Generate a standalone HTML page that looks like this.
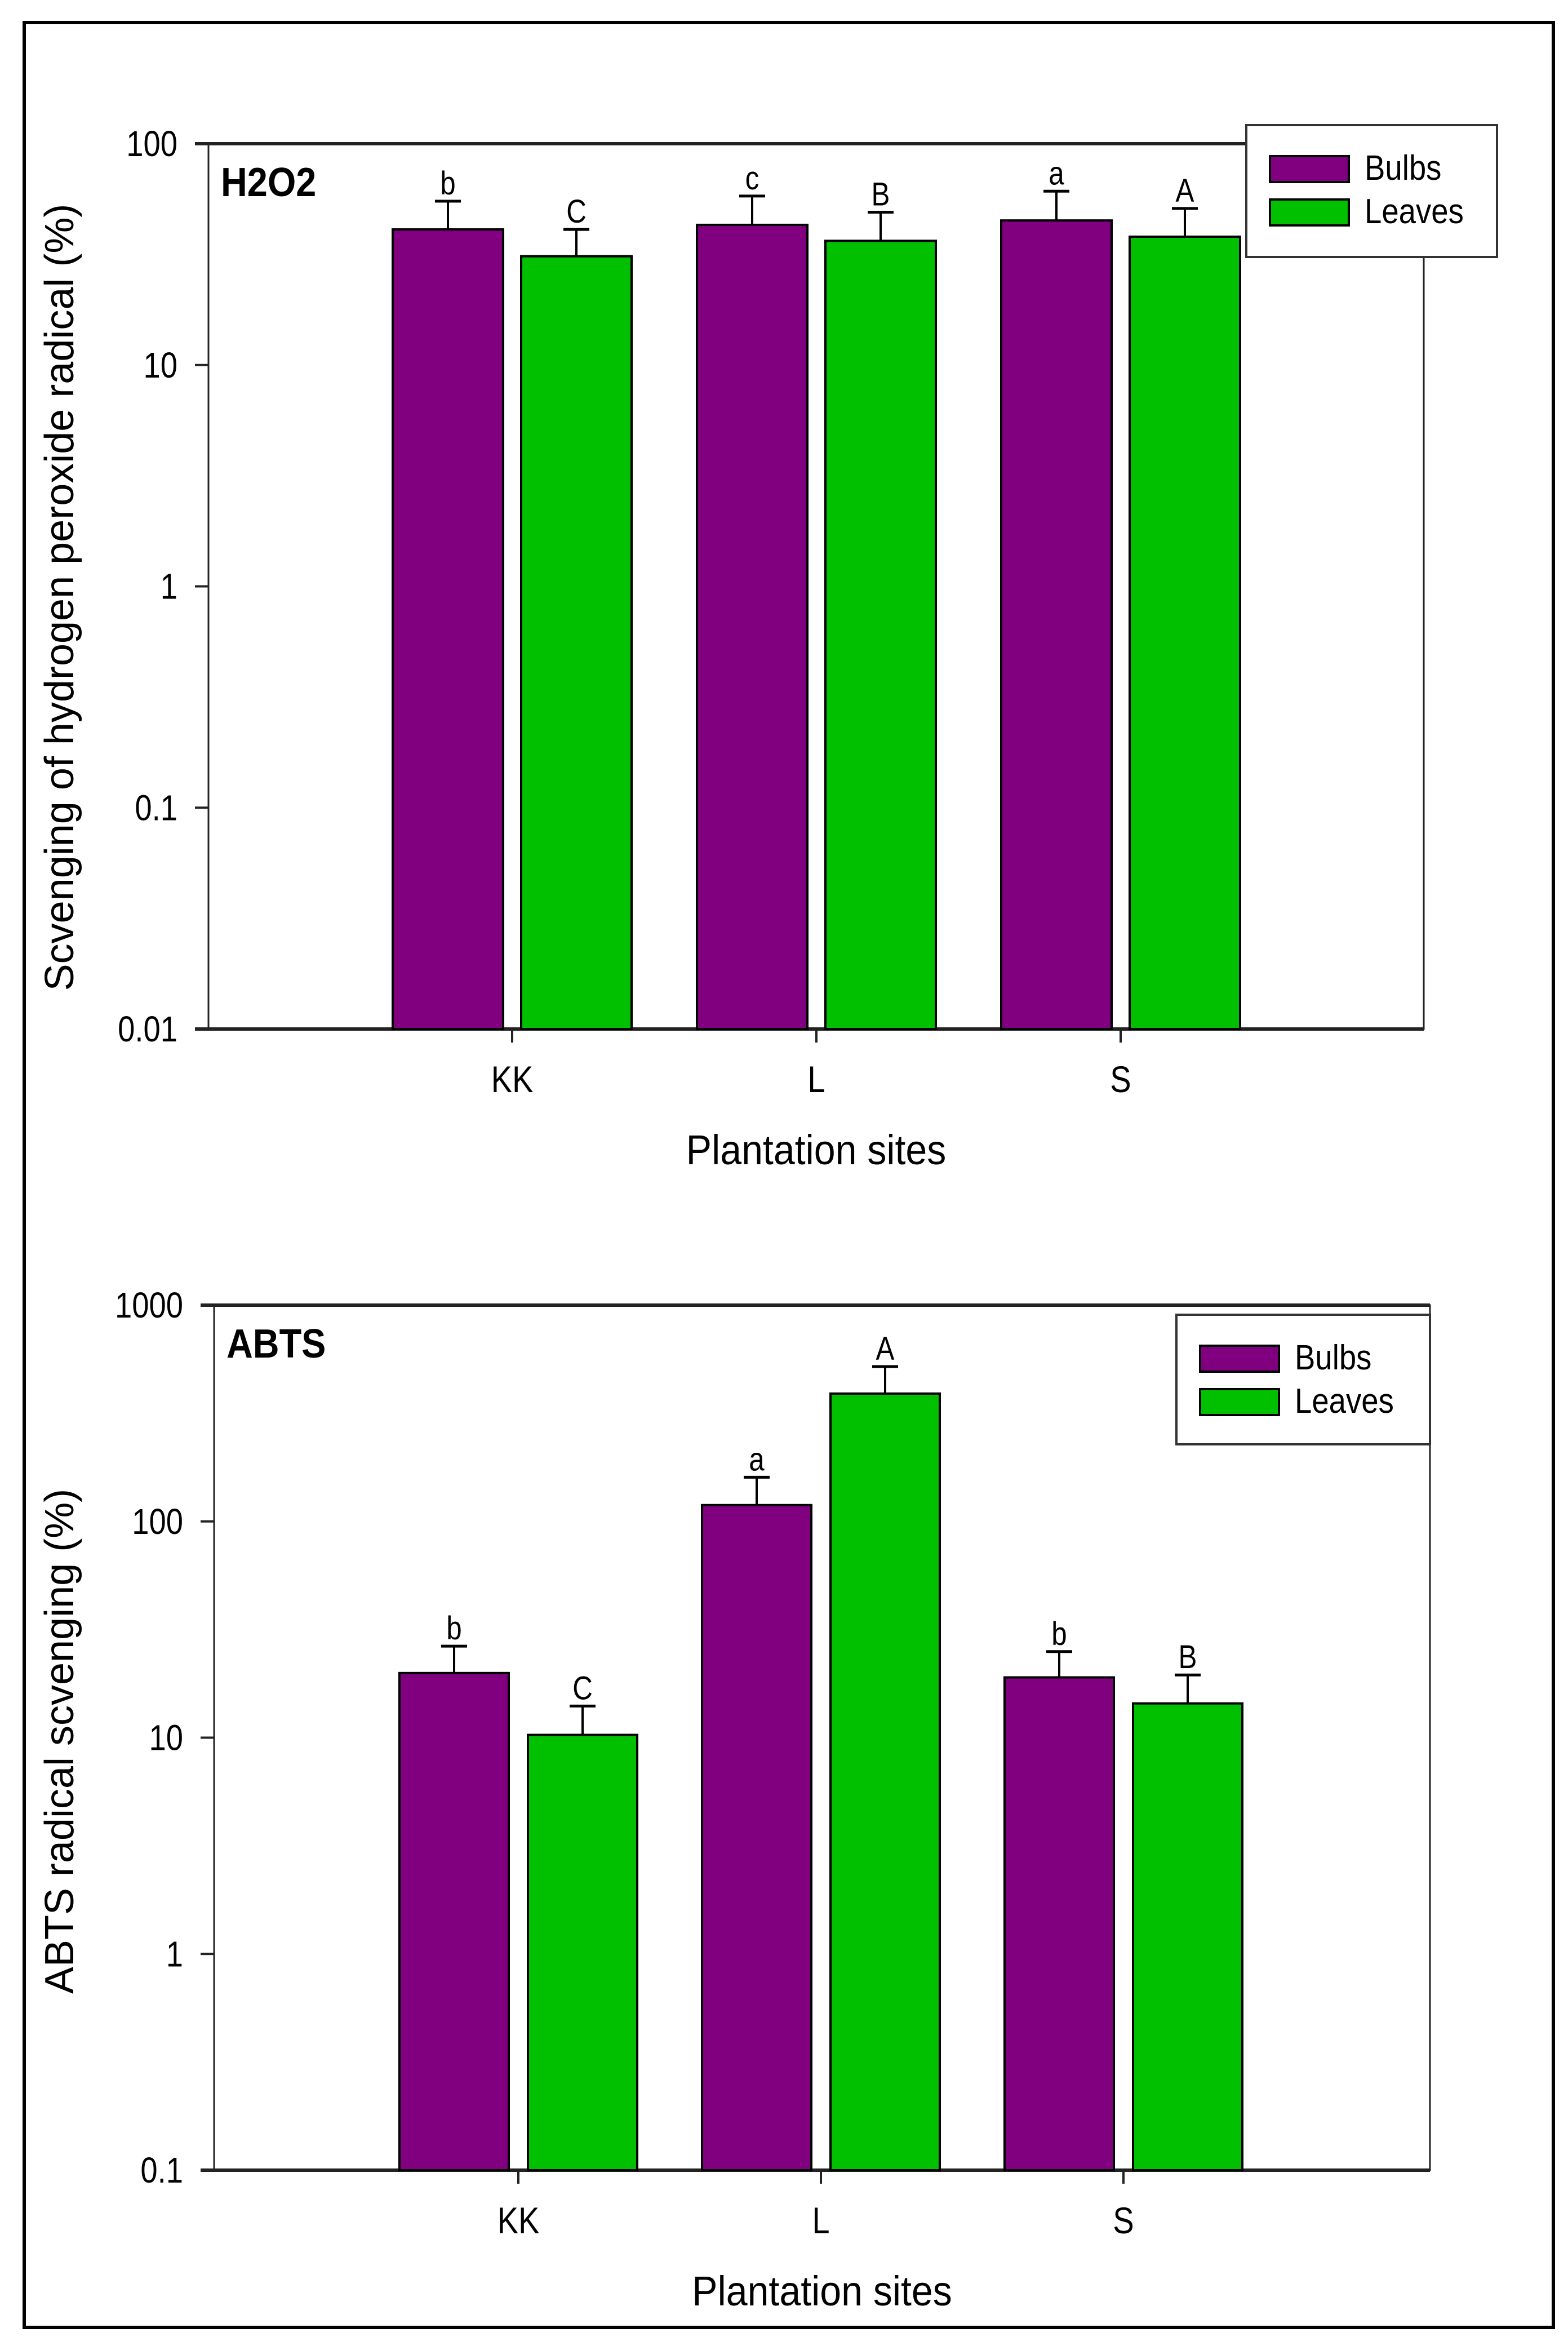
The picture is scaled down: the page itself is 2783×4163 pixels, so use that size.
<!DOCTYPE html>
<html><head><meta charset="utf-8">
<style>
html,body{margin:0;padding:0;background:#fff;}
svg{display:block;}
text{font-family:"Liberation Sans Narrow","Liberation Sans",sans-serif;fill:#000;}
.ttl{font-family:"Liberation Sans",sans-serif;}
</style></head>
<body>
<svg id="fig" width="2783" height="4163" viewBox="0 0 2783 4163" xmlns="http://www.w3.org/2000/svg">
<rect x="43" y="40" width="2714" height="4090" fill="#fff" stroke="#000" stroke-width="6"/>
<g id="c1"></g>
<g id="c2"></g>
</svg>
<script>
const categories = ["KK","L","S"];
const h2o2Bulbs = [41, 43, 45];
const h2o2BulbsErr = [55, 58, 61];
const h2o2Leaves = [31, 36.4, 38];
const h2o2LeavesErr = [41, 49, 51];
const h2o2BulbLetters = ["b","c","a"];
const h2o2LeafLetters = ["C","B","A"];
const h2o2Ticks = [0.01, 0.1, 1, 10, 100];
const h2o2TickLabels = ["0.01","0.1","1","10","100"];

const abtsBulbs = [19.9, 119, 19];
const abtsBulbsErr = [26.5, 160, 25];
const abtsLeaves = [10.3, 390, 14.4];
const abtsLeavesErr = [14, 520, 19.5];
const abtsBulbLetters = ["b","a","b"];
const abtsLeafLetters = ["C","A","B"];
const abtsTicks = [0.1, 1, 10, 100, 1000];
const abtsTickLabels = ["0.1","1","10","100","1000"];

const NS = "http://www.w3.org/2000/svg";
function mk(parent, tag, attrs, txt){
  const e = document.createElementNS(NS, tag);
  for (const k in attrs) e.setAttribute(k, attrs[k]);
  if (txt !== undefined) e.textContent = txt;
  parent.appendChild(e);
  return e;
}

function drawChart(g, cfg){
  const L = cfg.left, R = cfg.right, T = cfg.top, B = cfg.bottom;
  const lmin = Math.log10(cfg.ticks[0]), lmax = Math.log10(cfg.ticks[cfg.ticks.length-1]);
  const y = v => B - (Math.log10(v) - lmin) / (lmax - lmin) * (B - T);
  const n = categories.length;
  const cx = i => cfg.c0 + i * cfg.cstep;
  const bw = cfg.bw, gap = cfg.gap;

  const frame = mk(g, "rect", {x:L, y:T, width:R-L, height:B-T, fill:"none", stroke:"#222", "stroke-width":3});
  
  
  const xaxis = mk(g, "line", {x1:L-24, y1:B, x2:R, y2:B, stroke:"#222", "stroke-width":6});
  
  
  const topline = mk(g, "line", {x1:L-24, y1:T, x2:R, y2:T, stroke:"#222", "stroke-width":6});
  
  

  cfg.ticks.forEach((t, i) => {
    const yy = y(t);
    const tk = mk(g, "line", {x1:L-24, y1:yy, x2:L, y2:yy, stroke:"#222", "stroke-width":4});
    
    
    const lb = mk(g, "text", {x:0, y:0, "text-anchor":"end", "font-size":64, transform:`translate(${L-55} ${yy+22}) scale(0.85 1)`}, cfg.tickLabels[i]);
    
    
  });

  for (let i = 0; i < n; i++){
    const c = cx(i);
    const series = [
      {v:cfg.bulbs[i], e:cfg.bulbsErr[i], x:c - gap/2 - bw, col:"#800080", let:cfg.bulbLetters[i], nm:"bar-bulbs-"},
      {v:cfg.leaves[i], e:cfg.leavesErr[i], x:c + gap/2, col:"#00c000", let:cfg.leafLetters[i], nm:"bar-leaves-"}
    ];
    series.forEach(s => {
      const yt = y(s.v), ye = y(s.e), mid = s.x + bw/2;
      const r = mk(g, "rect", {x:s.x, y:yt, width:bw, height:B-yt, fill:s.col, stroke:"#000", "stroke-width":4});
      
      
      const el = mk(g, "line", {x1:mid, y1:yt, x2:mid, y2:ye, stroke:"#000", "stroke-width":4});
      
      
      const cap = mk(g, "line", {x1:mid-23, y1:ye, x2:mid+23, y2:ye, stroke:"#000", "stroke-width":5});
      
      
      const lt = mk(g, "text", {x:0, y:0, "text-anchor":"middle", "font-size":58, transform:`translate(${mid} ${ye-12}) scale(0.85 1)`}, s.let);
      
      
    });
    const xt = mk(g, "line", {x1:c, y1:B, x2:c, y2:B+24, stroke:"#222", "stroke-width":4});
    
    
    const xl = mk(g, "text", {x:0, y:0, "text-anchor":"middle", "font-size":66, transform:`translate(${c} ${B+112}) scale(0.85 1)`}, categories[i]);
    
    
  }

  const pl = mk(g, "text", {x:0, y:0, "font-size":72, "font-weight":"bold", transform:`translate(${L+22} ${T+93}) scale(0.9 1)`}, cfg.label);
  
  

  const xtt = mk(g, "text", {x:0, y:0, "text-anchor":"middle", "font-size":74, class:"ttl", transform:`translate(${(L+R)/2} ${B+240}) scale(0.92 1)`}, "Plantation sites");
  
  
  const yt = mk(g, "text", {x:0, y:0, "text-anchor":"middle", "font-size":72, class:"ttl", transform:`translate(130 ${cfg.ytc}) rotate(-90)`}, cfg.ytitle);
  
  

  const lg = mk(g, "g", {});
  
  
  mk(lg, "rect", {x:cfg.lx, y:cfg.ly, width:cfg.lw, height:cfg.lh, fill:"#fff", stroke:"#333", "stroke-width":4});
  [["Bulbs","#800080"],["Leaves","#00c000"]].forEach((d, k) => {
    const sy = cfg.ly + 55 + k*77;
    const sw = mk(lg, "rect", {x:cfg.lx+42, y:sy, width:140, height:46, fill:d[1], stroke:"#000", "stroke-width":4});
    
    
    const tx = mk(lg, "text", {x:0, y:0, "font-size":62, transform:`translate(${cfg.lx+210} ${sy+42}) scale(0.88 1)`}, d[0]);
    
    
  });
}

drawChart(document.getElementById("c1"), {
  left:370, right:2527, top:255, bottom:1826,
  ticks:h2o2Ticks, tickLabels:h2o2TickLabels,
  c0:909, cstep:540, bw:196, gap:32,
  bulbs:h2o2Bulbs, bulbsErr:h2o2BulbsErr, leaves:h2o2Leaves, leavesErr:h2o2LeavesErr,
  bulbLetters:h2o2BulbLetters, leafLetters:h2o2LeafLetters,
  label:"H2O2", ytitle:"Scvenging of hydrogen peroxide radical (%)", ytc:1060,
  lx:2212, ly:222, lw:445, lh:234
});
drawChart(document.getElementById("c2"), {
  left:380, right:2538, top:2316, bottom:3851,
  ticks:abtsTicks, tickLabels:abtsTickLabels,
  c0:920, cstep:537, bw:194, gap:34,
  bulbs:abtsBulbs, bulbsErr:abtsBulbsErr, leaves:abtsLeaves, leavesErr:abtsLeavesErr,
  bulbLetters:abtsBulbLetters, leafLetters:abtsLeafLetters,
  label:"ABTS", ytitle:"ABTS radical scvenging (%)", ytc:3090,
  lx:2088, ly:2333, lw:450, lh:230
});
</script>
</body></html>
